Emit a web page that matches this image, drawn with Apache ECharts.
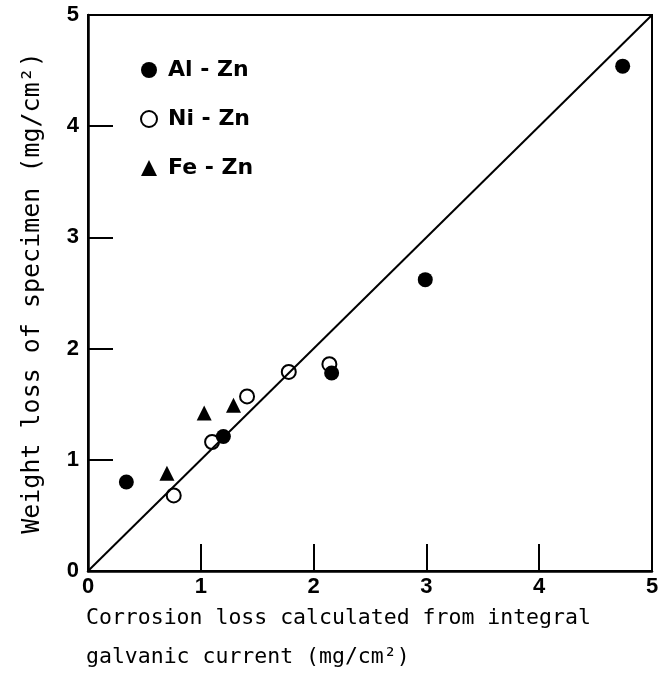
<!DOCTYPE html>
<html>
<head>
<meta charset="utf-8">
<script src="https://cdn.jsdelivr.net/npm/echarts@6/dist/echarts.min.js"></script>
<style>html,body{margin:0;padding:0;background:#fff;}#c{width:668px;height:673px;}</style>
</head>
<body>
<div id="c"></div>
<script>
const seriesNames = ['Al - Zn', 'Ni - Zn', 'Fe - Zn'];
const alZn = [[0.34, 0.80], [1.20, 1.21], [2.16, 1.78], [2.99, 2.62], [4.74, 4.54]];
const niZn = [[0.76, 0.68], [1.10, 1.16], [1.41, 1.57], [1.78, 1.79], [2.14, 1.86]];
const feZn = [[0.70, 0.88], [1.03, 1.42], [1.29, 1.49]];
const refLine = [[0, 0], [5, 5]];
const xTicks = [0, 1, 2, 3, 4, 5];
const yTicks = [0, 1, 2, 3, 4, 5];
const xName = 'Corrosion loss calculated from integral\ngalvanic current (mg/cm²)';
const yName = 'Weight loss of specimen (mg/cm²)';

const chart = echarts.init(document.getElementById('c'), null, {renderer: 'canvas'});
chart.setOption({
  animation: false,
  backgroundColor: '#fff',
  title: {
    text: xName, left: 86, top: 599, padding: 0,
    textStyle: {color: '#000', fontFamily: 'DejaVu Sans Mono', fontSize: 21.5, fontWeight: 'normal', lineHeight: 39}
  },
  grid: {left: 88, right: 16, top: 15, bottom: 102, outerBoundsMode: 'none', containLabel: false,
         show: true, borderColor: '#000', borderWidth: 2},
  legend: {
    data: seriesNames,
    orient: 'vertical',
    left: 135, top: 54,
    itemWidth: 16, itemHeight: 16, itemGap: 27,
    itemStyle: {opacity: 1},
    textStyle: {color: '#000', fontFamily: 'DejaVu Sans', fontWeight: 'bold', fontSize: 22, padding: [0,0,0,6]}
  },
  xAxis: {
    type: 'value', min: 0, max: 5, interval: 1,
    axisLine: {show: true, lineStyle: {color: '#000', width: 2.5}},
    axisTick: {show: true, inside: true, length: 27, lineStyle: {color: '#000', width: 2}},
    axisLabel: {margin: 5, color: '#000', fontFamily: 'Liberation Sans', fontWeight: 'bold', fontSize: 22,
                formatter: v => xTicks.includes(v) ? String(v) : ''},
    splitLine: {show: false}
  },
  yAxis: {
    type: 'value', min: 0, max: 5, interval: 1,
    name: yName, nameLocation: 'middle', nameGap: 43,
    nameTextStyle: {color: '#000', fontFamily: 'DejaVu Sans Mono', fontSize: 25},
    axisLine: {show: true, lineStyle: {color: '#000', width: 2.5}},
    axisTick: {show: true, inside: true, length: 25, lineStyle: {color: '#000', width: 2}},
    axisLabel: {margin: 9, color: '#000', fontFamily: 'Liberation Sans', fontWeight: 'bold', fontSize: 22,
                formatter: v => yTicks.includes(v) ? String(v) : ''},
    splitLine: {show: false}
  },
  series: [
    {name: 'ref', type: 'line', data: refLine, showSymbol: false, symbol: 'none', silent: true, z: 3,
     lineStyle: {color: '#000', width: 2}},
    {name: seriesNames[0], type: 'scatter', data: alZn, symbol: 'circle', symbolSize: 15, z: 4,
     itemStyle: {color: '#000', opacity: 1}},
    {name: seriesNames[1], type: 'scatter', data: niZn, symbol: 'circle', symbolSize: 14, z: 2,
     itemStyle: {color: 'rgba(255,255,255,0)', borderColor: '#000', borderWidth: 2, opacity: 1}},
    {name: seriesNames[2], type: 'scatter', data: feZn, symbol: 'triangle', symbolSize: 15, z: 4,
     itemStyle: {color: '#000', opacity: 1}}
  ]
});
</script>
</body>
</html>
